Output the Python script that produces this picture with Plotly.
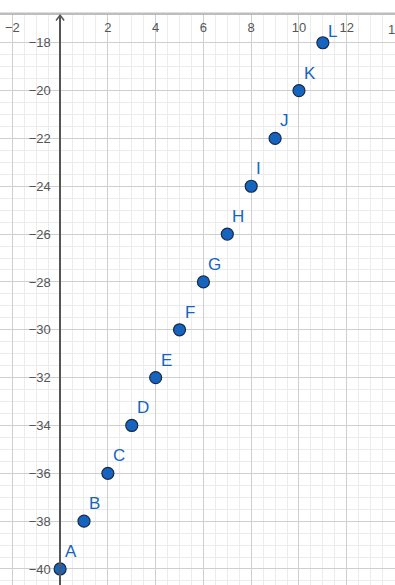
import plotly.graph_objects as go

labels = ["A", "B", "C", "D", "E", "F", "G", "H", "I", "J", "K", "L"]
x_vals = [0, 1, 2, 3, 4, 5, 6, 7, 8, 9, 10, 11]
y_vals = [-40, -38, -36, -34, -32, -30, -28, -26, -24, -22, -20, -18]
x_ticks = [-2, 2, 4, 6, 8, 10, 12, 14]
y_ticks = [-40, -38, -36, -34, -32, -30, -28, -26, -24, -22, -20, -18]

x_range = [-2.516, 14.02]
y_range = [-40.67, -16.84]

blue = "rgb(21,101,192)"
font_fam = "Liberation Sans, Arial, sans-serif"
tick_col = "#555555"

def fmt(v):
    return ("\u2212" + str(-v)) if v < 0 else str(v)

fig = go.Figure()
fig.add_trace(go.Scatter(
    x=x_vals, y=y_vals,
    mode="markers",
    marker=dict(size=12, color=blue, line=dict(color="#1a2a44", width=1.2)),
    cliponaxis=False, showlegend=False, hoverinfo="skip",
))

annotations = []
for lab, xv, yv in zip(labels, x_vals, y_vals):
    near_top = yv >= y_ticks[-1]
    annotations.append(dict(
        x=xv, y=yv, xref="x", yref="y", text=lab, showarrow=False,
        xanchor="left", yanchor="bottom",
        xshift=3, yshift=(0 if near_top else 6),
        font=dict(color=blue, size=17, family=font_fam),
    ))

# the last x tick label is cut off by the right edge of the view
annotations.append(dict(
    x=x_ticks[-1], y=1, xref="x", yref="paper", text=fmt(x_ticks[-1]),
    showarrow=False, xanchor="center", yanchor="top", yshift=-5,
    font=dict(size=13, color=tick_col, family=font_fam),
))

y_axis_pos = (0 - x_range[0]) / (x_range[1] - x_range[0])

fig.update_layout(
    width=395, height=585,
    margin=dict(l=0, r=0, t=15, b=0),
    paper_bgcolor="white", plot_bgcolor="white",
    xaxis=dict(
        range=x_range, side="top", ticklabelposition="inside",
        tickvals=x_ticks[:-1],
        ticktext=[fmt(v) for v in x_ticks[:-1]],
        ticklabelstandoff=5,
        showgrid=True, gridcolor="#cfcfcf", gridwidth=1.2,
        minor=dict(dtick=0.5, tick0=0, showgrid=True, gridcolor="#ececec", gridwidth=1),
        zeroline=False, showline=False, ticks="",
        tickfont=dict(size=13, color=tick_col, family=font_fam),
        fixedrange=True,
    ),
    yaxis=dict(
        range=y_range, anchor="free", position=y_axis_pos, side="left",
        tickvals=y_ticks,
        showgrid=True, gridcolor="#cfcfcf", gridwidth=1.2,
        minor=dict(dtick=0.5, tick0=0, showgrid=True, gridcolor="#ececec", gridwidth=1),
        zeroline=False, showline=True, linecolor=tick_col, linewidth=1.5, ticks="",
        ticklabelstandoff=6,
        tickfont=dict(size=13, color=tick_col, family=font_fam),
        fixedrange=True,
    ),
    annotations=annotations,
    shapes=[
        dict(type="line", xref="paper", yref="paper", x0=0, x1=1, y0=1.002, y1=1.002,
             line=dict(color="#bdbdbd", width=2.5)),
        dict(type="path", xref="x", yref="paper",
             path="M -0.17,0.9905 L 0,0.9995 L 0.17,0.9905",
             line=dict(color=tick_col, width=1.5)),
    ],
)

fig.write_html("out.html")
